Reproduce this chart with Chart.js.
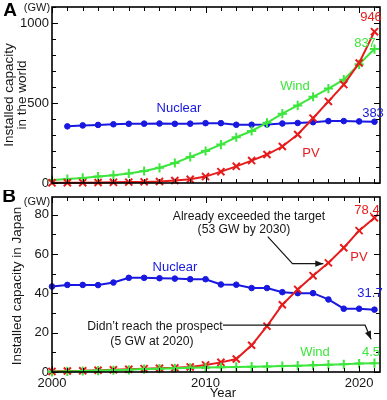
<!DOCTYPE html>
<html><head><meta charset="utf-8">
<script src="https://cdn.jsdelivr.net/npm/chart.js@4"></script>
<style>
html,body{margin:0;padding:0;background:#fff;}
#wrap{position:relative;width:387px;height:400px;}
canvas{position:absolute;left:0;}
#ca{top:0;}
#cb{top:190px;}
</style></head>
<body><div id="wrap"><canvas id="ca" width="387" height="190"></canvas><canvas id="cb" width="387" height="210"></canvas></div>
<script>
const years = [2000,2001,2002,2003,2004,2005,2006,2007,2008,2009,2010,2011,2012,2013,2014,2015,2016,2017,2018,2019,2020,2021];
// World (GW)
const worldPV      = [1,1.5,2,3,4,5.5,7,9,15,23,40,71,104,140,178,228,303,405,510,615,750,946];
const worldWind    = [18,25,32,40,49,60,75,95,125,163,200,240,286,325,376,433,485,539,590,646,742,837];
const worldNuclear = [null,354,360,363,367,370,371,372,370,371,374,374,364,364,366,372,375,380,387,387,385,383];
// Japan (GW)
const jpPV      = [0.3,0.5,0.6,0.9,1.1,1.4,1.7,1.9,2.1,2.6,3.6,4.9,6.6,13.6,23.3,34.2,42.0,49.0,55.5,63.2,71.9,78.4];
const jpWind    = [0.1,0.3,0.5,0.7,0.9,1.1,1.5,1.7,1.9,2.1,2.3,2.4,2.6,2.7,2.8,3.0,3.2,3.4,3.7,3.9,4.3,4.5];
const jpNuclear = [43.5,44.3,44.3,44.2,45.5,47.9,47.9,47.7,47.5,47.2,47.2,44.5,44.4,42.7,42.7,40.6,40.1,40.1,36.9,32.2,32.2,31.7];
// tick labels
const xTicks  = [2000,2010,2020];
const yTicksA = [0,500,1000];
const yTicksB = [0,20,40,60,80];

const BLUE='#1818e0', RED='#e61c1c', GREEN='#3ce63c', INK='#161616';
const FONT='"Liberation Sans", Arial, Helvetica, sans-serif';

function pts(arr){ return years.map((y,i)=>({x:y,y:arr[i]})).filter(p=>p.y!==null); }
function nuc(arr){ return {data:pts(arr),borderColor:BLUE,backgroundColor:BLUE,borderWidth:2,pointStyle:'circle',pointRadius:2.8,pointBorderWidth:1,clip:false}; }
function pv(arr){ return {data:pts(arr),borderColor:RED,backgroundColor:RED,borderWidth:2,pointStyle:'crossRot',pointRadius:5,pointBorderWidth:2,clip:false}; }
function wind(arr){ return {data:pts(arr),borderColor:GREEN,backgroundColor:GREEN,borderWidth:2,pointStyle:'cross',pointRadius:4.6,pointBorderWidth:2,clip:false}; }

function txt(ctx,s,x,y,color,size,opts){
  opts=opts||{};
  ctx.save();
  ctx.fillStyle=color; ctx.font=(opts.bold?'bold ':'')+size+'px '+FONT;
  ctx.textAlign='center'; ctx.textBaseline='middle';
  if(opts.rot){ ctx.translate(x,y); ctx.rotate(-Math.PI/2); ctx.fillText(s,0,0); }
  else ctx.fillText(s,x,y);
  ctx.restore();
}

function frameTicks(chart,yStep,yMajor,yMax){
  const ctx=chart.ctx, a=chart.chartArea, xs=chart.scales.x, ys=chart.scales.y;
  ctx.save();
  ctx.strokeStyle='#000'; ctx.lineWidth=1;
  ctx.beginPath();
  for(let yr=2000; yr<=2021; yr++){
    const px=Math.round(xs.getPixelForValue(yr))+0.5, len=(yr%10===0)?6:4;
    ctx.moveTo(px,a.top); ctx.lineTo(px,a.top+len);
    ctx.moveTo(px,a.bottom); ctx.lineTo(px,a.bottom-len);
  }
  for(let v=0; v<=yMax; v+=yStep){
    const py=Math.round(ys.getPixelForValue(v))+0.5, len=(v%yMajor===0)?6:4;
    ctx.moveTo(a.left,py); ctx.lineTo(a.left+len,py);
    ctx.moveTo(a.right,py); ctx.lineTo(a.right-len,py);
  }
  ctx.stroke();
  ctx.lineWidth=1.6;
  ctx.strokeRect(a.left,a.top,a.right-a.left,a.bottom-a.top);
  ctx.restore();
}

function arrow(ctx,pts){
  ctx.save();
  ctx.strokeStyle=INK; ctx.fillStyle=INK; ctx.lineWidth=1.2;
  ctx.beginPath(); ctx.moveTo(pts[0][0],pts[0][1]);
  for(let i=1;i<pts.length;i++) ctx.lineTo(pts[i][0],pts[i][1]);
  ctx.stroke();
  const n=pts.length, p=pts[n-1], q=pts[n-2];
  const ang=Math.atan2(p[1]-q[1],p[0]-q[0]);
  ctx.translate(p[0],p[1]); ctx.rotate(ang);
  ctx.beginPath(); ctx.moveTo(0,0); ctx.lineTo(-8,-3.2); ctx.lineTo(-8,3.2); ctx.closePath(); ctx.fill();
  ctx.restore();
}

const X_MAX=2021.36;

const plugA={id:'pa',afterDraw(chart){
  const ctx=chart.ctx;
  frameTicks(chart,100,500,1100);
  txt(ctx,'A',10,11,'#000',19,{bold:true});
  txt(ctx,'(GW)',37,8,INK,11);
  txt(ctx,'Installed capacity',9.5,95,INK,13.5,{rot:true});
  txt(ctx,'in the world',22,95,INK,13.5,{rot:true});
  txt(ctx,'Nuclear',179,108,BLUE,13);
  txt(ctx,'Wind',295,86,GREEN,13);
  txt(ctx,'PV',311,153,RED,13);
  txt(ctx,'946',371,17,RED,13);
  txt(ctx,'837',365,43,GREEN,13);
  txt(ctx,'383',373,113,BLUE,13);
}};

const plugB={id:'pb',afterDraw(chart){
  const ctx=chart.ctx, xs=chart.scales.x, ys=chart.scales.y;
  frameTicks(chart,10,20,89);
  const P=(yr,v)=>[xs.getPixelForValue(yr),ys.getPixelForValue(v)];
  txt(ctx,'B',9,7,'#000',19,{bold:true});
  txt(ctx,'(GW)',37,12,INK,11);
  txt(ctx,'Installed capacity in Japan',17,96,INK,13.5,{rot:true});
  txt(ctx,'Nuclear',175,77,BLUE,13);
  txt(ctx,'PV',359,67,RED,13);
  txt(ctx,'78.4',367,20,RED,13);
  txt(ctx,'31.7',370,103,BLUE,13);
  txt(ctx,'Wind',315,162,GREEN,13);
  txt(ctx,'4.5',371,162,GREEN,13);
  txt(ctx,'Already exceeded the target',249,27,INK,12.2);
  txt(ctx,'(53 GW by 2030)',244,40,INK,12.2);
  txt(ctx,'Didn\u2019t reach the prospect',155,137,INK,12.2);
  txt(ctx,'(5 GW at 2020)',152,152,INK,12.2);
  txt(ctx,'Year',223,203,INK,13);
  arrow(ctx,[P(2014.05,68.8),P(2015.66,55.1),P(2017.67,55.1)]);
  arrow(ctx,[P(2011.13,23.8),P(2020.39,23.8),P(2020.78,16.7)]);
}};

const base=(padding)=>({
  responsive:false, animation:false, devicePixelRatio:1,
  layout:{padding},
  plugins:{legend:{display:false},tooltip:{enabled:false}},
  elements:{line:{tension:0}}
});

const yTickFont={family:FONT,size:13};

const optA=base({top:5,right:5,bottom:7,left:0});
optA.scales={
  x:{type:'linear',min:2000,max:X_MAX,display:false},
  y:{type:'linear',min:0,max:1100,
     grid:{display:false,drawTicks:false},border:{display:false},
     ticks:{font:yTickFont,color:INK,padding:3,callback:v=>String(v)},
     afterBuildTicks(s){s.ticks=yTicksA.map(v=>({value:v}));},
     afterFit(s){s.width=52;s.paddingTop=0;s.paddingBottom=0;}}
};
new Chart(document.getElementById('ca'),{type:'line',
  data:{datasets:[pv(worldPV),wind(worldWind),nuc(worldNuclear)]},
  options:optA,plugins:[plugA]});

const optB=base({top:6,right:5,bottom:0,left:0});
optB.scales={
  x:{type:'linear',min:2000,max:X_MAX,
     grid:{display:false,drawTicks:false},border:{display:false},
     ticks:{font:yTickFont,color:INK,padding:4,maxRotation:0,callback:v=>String(v)},
     afterBuildTicks(s){s.ticks=xTicks.map(v=>({value:v}));},
     afterFit(s){s.height=28;s.paddingLeft=0;s.paddingRight=0;}},
  y:{type:'linear',min:0,max:89,
     grid:{display:false,drawTicks:false},border:{display:false},
     ticks:{font:yTickFont,color:INK,padding:3,callback:v=>String(v)},
     afterBuildTicks(s){s.ticks=yTicksB.map(v=>({value:v}));},
     afterFit(s){s.width=52;s.paddingTop=0;s.paddingBottom=0;}}
};
new Chart(document.getElementById('cb'),{type:'line',
  data:{datasets:[wind(jpWind),pv(jpPV),nuc(jpNuclear)]},
  options:optB,plugins:[plugB]});
</script>
</body></html>
